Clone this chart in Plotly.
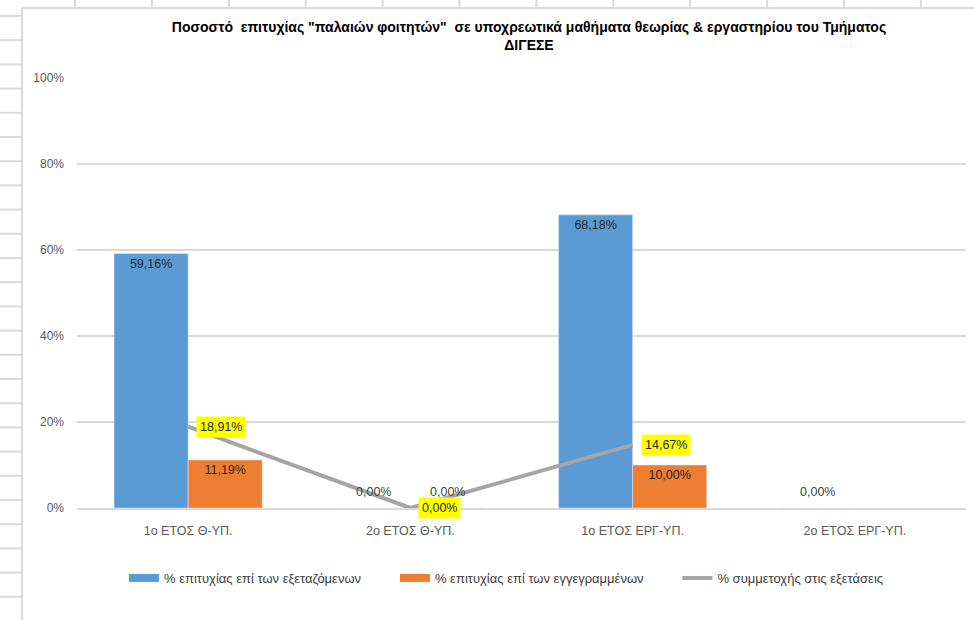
import plotly.graph_objects as go

categories = ["1ο ΕΤΟΣ Θ-ΥΠ.", "2ο ΕΤΟΣ Θ-ΥΠ.", "1ο ΕΤΟΣ ΕΡΓ-ΥΠ.", "2ο ΕΤΟΣ ΕΡΓ-ΥΠ."]
succ_examined = [59.16, 0.0, 68.18, 0.0]
succ_registered = [11.19, 0.0, 10.00, None]
participation = [18.91, 0.0, 14.67, None]

series_names = ["% επιτυχίας επί των εξεταζόμενων",
                "% επιτυχίας επί των εγγεγραμμένων",
                "% συμμετοχής στις εξετάσεις"]
title_text = "Ποσοστό  επιτυχίας \"παλαιών φοιτητών\"  σε υποχρεωτικά μαθήματα θεωρίας & εργαστηρίου του Τμήματος<br>ΔΙΓΕΣΕ"

BLUE = "#5B9BD5"
ORANGE = "#ED7D31"
GRAY = "#A5A5A5"
FONT = "Liberation Sans"
LABEL_SIZE = 12.5
HALF_BAR_PX = 37  # half of a bar's pixel width (group offset for zero labels)


def fmt(v):
    return "" if v is None else f"{v:.2f}%".replace(".", ",")


def positions(vals):
    return ["inside" if (v is not None and v > 0) else "none" for v in vals]


fig = go.Figure()
for i, (vals, nm, col) in enumerate([(succ_examined, series_names[0], BLUE),
                                     (succ_registered, series_names[1], ORANGE)]):
    fig.add_trace(go.Bar(
        x=categories, y=vals, name=nm, marker_color=col,
        text=[fmt(v) for v in vals], textposition=positions(vals),
        insidetextanchor="end", textangle=0,
        insidetextfont=dict(color="#262626", size=LABEL_SIZE, family=FONT),
        cliponaxis=False, showlegend=False,
    ))
    # zero-height bars: label just above the axis
    shift = -HALF_BAR_PX if i == 0 else HALF_BAR_PX
    for c, v in zip(categories, vals):
        if v is not None and v == 0:
            fig.add_annotation(x=c, y=v, xref="x", yref="y", text=fmt(v), showarrow=False,
                               xanchor="center", yanchor="bottom", xshift=shift, yshift=7,
                               font=dict(color="#404040", size=LABEL_SIZE, family=FONT))

fig.add_trace(go.Scatter(
    x=categories, y=participation, name=series_names[2], mode="lines",
    line=dict(color=GRAY, width=4), showlegend=False, cliponaxis=False,
))

# legend entries (Excel-style wide swatches); nbsp padding widens the gaps
pad = "\u00a0" * 8
for nm, col, w in [(series_names[0], BLUE, 8), (series_names[1], ORANGE, 8), (series_names[2], GRAY, 4)]:
    fig.add_trace(go.Scatter(x=[None], y=[None], mode="lines", name=nm + pad,
                             line=dict(color=col, width=w), showlegend=True))

# yellow labels for the line
for c, v in zip(categories, participation):
    if v is None:
        continue
    fig.add_annotation(x=c, y=v, xref="x", yref="y", text=fmt(v), showarrow=False,
                       xanchor="left", yanchor="middle", xshift=8,
                       bgcolor="#FFFF00", borderpad=3,
                       font=dict(color="#262626", size=LABEL_SIZE, family=FONT))

# spreadsheet background decoration (pixel -> paper conversion)
L, R, T, B = 77, 8, 78, 112
W, H = 974 - L - R, 620 - T - B


def px(xp):
    return (xp - L) / W


def py(yp):
    return (620 - B - yp) / H


shapes = []
cell = "#DADADA"
shapes.append(dict(type="line", xref="paper", yref="paper", x0=px(22), x1=px(22), y0=py(8), y1=py(620),
                   line=dict(color=cell, width=2), layer="below"))
shapes.append(dict(type="line", xref="paper", yref="paper", x0=px(22), x1=px(974), y0=py(8), y1=py(8),
                   line=dict(color=cell, width=2), layer="below"))
yy = 16.0
while yy < 620:
    shapes.append(dict(type="line", xref="paper", yref="paper", x0=px(0), x1=px(21), y0=py(yy), y1=py(yy),
                       line=dict(color=cell, width=2), layer="below"))
    yy += 24.2
xx = 75.0
while xx < 974:
    shapes.append(dict(type="line", xref="paper", yref="paper", x0=px(xx), x1=px(xx), y0=py(0), y1=py(7),
                       line=dict(color=cell, width=2), layer="below"))
    xx += 76.9

fig.update_layout(
    width=974, height=620,
    margin=dict(l=L, r=R, t=T, b=B, autoexpand=False),
    paper_bgcolor="white", plot_bgcolor="white",
    barmode="group", bargap=1 / 3, bargroupgap=0,
    font=dict(family=FONT, size=12, color="#595959"),
    title=dict(text=title_text, x=529 / 974, xanchor="center", y=1 - 32 / 620, yanchor="middle",
               font=dict(family=FONT, size=14, color="#000000", weight="bold")),
    legend=dict(orientation="h", x=px(124), xanchor="left", y=py(578), yanchor="middle",
                font=dict(family=FONT, size=13, color="#404040"), itemwidth=30,
                bgcolor="rgba(0,0,0,0)"),
    shapes=shapes,
    showlegend=True,
)
fig.update_xaxes(showgrid=False, showline=True, linecolor="#D9D9D9", linewidth=1.5,
                 ticks="", ticklabelstandoff=10, tickfont=dict(size=12.5, color="#595959"))
fig.update_yaxes(range=[0, 100], dtick=20, ticksuffix="%", showgrid=True, gridcolor="#D9D9D9",
                 gridwidth=1.5, zeroline=False, showline=False, ticks="", ticklabelstandoff=12,
                 tickfont=dict(size=12, color="#595959"))

fig.write_html("out.html", config={"displayModeBar": False},
               post_script="document.body.style.margin='0';document.body.style.overflow='hidden';")
